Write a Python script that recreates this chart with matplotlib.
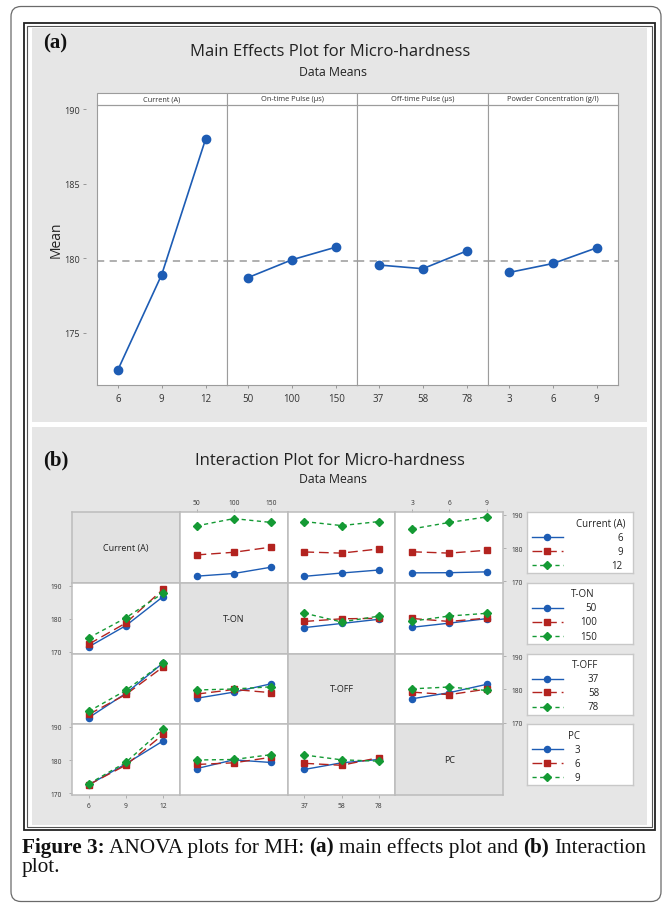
import numpy as np
import matplotlib
matplotlib.use('Agg')
import matplotlib.pyplot as plt
from matplotlib.patches import Rectangle, FancyBboxPatch

W, H = 666, 904
SANS = ['Open Sans', 'DejaVu Sans']
SERIF = ['Liberation Serif', 'DejaVu Serif']
plt.rcParams['font.family'] = SANS

# ---------------- data ----------------
me_titles = ['Current (A)', 'On-time Pulse (µs)', 'Off-time Pulse (µs)',
             'Powder Concentration (g/l)']
short_names = ['Current (A)', 'T-ON', 'T-OFF', 'PC']
current_levels = ['6', '9', '12']
ton_levels = ['50', '100', '150']
toff_levels = ['37', '58', '78']
pc_levels = ['3', '6', '9']

current_mean = [172.5, 178.9, 188.0]
ton_mean = [178.7, 179.9, 180.75]
toff_mean = [179.55, 179.3, 180.5]
pc_mean = [179.05, 179.65, 180.7]

me_yticks = [175, 180, 185, 190]
ia_yticks = [170, 180, 190]

# interaction cell means: rows = levels of first factor, cols = levels of second factor
cur_ton = [[171.55, 172.35, 174.25], [177.95, 178.75, 180.3], [186.7, 188.9, 187.75]]
cur_toff = [[171.5, 172.5, 173.4], [178.85, 178.5, 179.75], [188.0, 186.8, 188.0]]
cur_pc = [[172.55, 172.6, 172.85], [178.9, 178.5, 179.35], [185.8, 187.75, 189.4]]
ton_toff = [[177.35, 178.6, 179.85], [179.2, 180.0, 180.15], [181.7, 179.05, 180.8]]
ton_pc = [[177.45, 178.7, 180.05], [180.1, 179.2, 180.2], [179.3, 180.85, 181.65]]
toff_pc = [[177.2, 179.05, 181.55], [179.2, 178.45, 180.1], [180.2, 180.75, 179.7]]

levels = [current_levels, ton_levels, toff_levels, pc_levels]
means = [current_mean, ton_mean, toff_mean, pc_mean]
pairs = {(0, 1): cur_ton, (0, 2): cur_toff, (0, 3): cur_pc,
         (1, 2): ton_toff, (1, 3): ton_pc, (2, 3): toff_pc}


def cell_lines(i, j):
    if i < j:
        return np.array(pairs[(i, j)])
    return np.array(pairs[(j, i)]).T


BLUE = '#1d5cb4'
RED = '#b3231f'
GREEN = '#149a34'
PANEL = '#e6e6e6'
SPINE = '#9c9c9c'

fig = plt.figure(figsize=(W / 100, H / 100), dpi=100)
fig.patch.set_facecolor('white')


def px(x):
    return x / W


def py(y):
    return 1 - y / H


def add_ax(x0, y0, x1, y1, **kw):
    return fig.add_axes([x0 / W, 1 - y1 / H, (x1 - x0) / W, (y1 - y0) / H], **kw)


bg = fig.add_axes([0, 0, 1, 1], zorder=-5)
bg.set_xlim(0, W)
bg.set_ylim(H, 0)
bg.axis('off')
bg.add_patch(FancyBboxPatch((11, 7.5), 650, 895, boxstyle='round,pad=0,rounding_size=10',
                            fc='none', ec='#6a6a6a', lw=0.9))
bg.add_patch(Rectangle((31.5, 28.5), 615.5, 394, fc=PANEL, ec='none'))
bg.add_patch(Rectangle((31.5, 428), 615.5, 398, fc=PANEL, ec='none'))
bg.add_patch(Rectangle((23.5, 24), 631.5, 806.5, fc='none', ec='#222222', lw=1.3))
bg.add_patch(Rectangle((26.5, 27), 625.5, 800.5, fc='none', ec='#555555', lw=0.8))

renderer = fig.canvas.get_renderer()


def fit_width(t, target):
    w = t.get_window_extent(renderer).width
    t.set_fontsize(t.get_fontsize() * target / w)


# ---------------- (a) main effects ----------------
fig.text(px(43), py(43), '(a)', fontsize=15, fontweight='bold', family=SERIF,
         va='center', ha='left', color='#111')
t_a = fig.text(px(330), py(52), 'Main Effects Plot for Micro-hardness', ha='center',
               va='center', fontsize=12, color='#222')
fit_width(t_a, 280)
t_am = fig.text(px(333), py(72), 'Data Means', ha='center', va='center', fontsize=8.5,
                color='#222')
fit_width(t_am, 68)
fig.text(px(56), py(240), 'Mean', rotation=90, ha='center', va='center', fontsize=10,
         color='#222')

xb = [96.7, 226.7, 357.3, 488.3, 617.7]
top, bot = 105.7, 386
grand = np.mean(current_mean)
hh = 11.7 / (bot - top)
for k in range(4):
    ax = add_ax(xb[k], top, xb[k + 1], bot)
    ax.set_facecolor('white')
    ax.axhline(grand, color='#a9a9a9', lw=1.3, ls=(0, (4, 3)), zorder=1)
    ax.plot(range(3), means[k], color=BLUE, lw=1.2, marker='o', ms=6, zorder=3)
    ax.set_xlim(-0.48, 2.48)
    ax.set_ylim(171.5, 190.3)
    ax.set_xticks(range(3))
    ax.set_xticklabels(levels[k])
    ax.tick_params(axis='x', length=2, width=0.6, color='#888', pad=4, labelsize=7,
                   labelcolor='#333')
    for s in ax.spines.values():
        s.set_color(SPINE)
        s.set_linewidth(0.8)
    ax.set_yticks(me_yticks)
    if k == 0:
        ax.spines['left'].set_position(('outward', 8))
        ax.spines['left'].set_color('none')
        ax.plot([0, 0], [0, 1], transform=ax.transAxes, color=SPINE, lw=0.8, clip_on=False)
        ax.tick_params(axis='y', length=2.5, width=0.6, color='#888', pad=1.5, labelsize=6.5,
                       labelcolor='#333')
    else:
        ax.tick_params(axis='y', left=False, labelleft=False)
    ax.add_patch(Rectangle((0, 1), 1, hh, transform=ax.transAxes, clip_on=False,
                           fc='white', ec=SPINE, lw=0.8))
    ax.text(0.5, 1 + hh / 2, me_titles[k], transform=ax.transAxes, ha='center', va='center',
            fontsize=5.3, color='#333')

# ---------------- (b) interaction ----------------
fig.text(px(43), py(460), '(b)', fontsize=15, fontweight='bold', family=SERIF,
         va='center', ha='left', color='#111')
t_b = fig.text(px(330), py(461), 'Interaction Plot for Micro-hardness', ha='center',
               va='center', fontsize=t_a.get_fontsize(), color='#222')
fig.text(px(333), py(479.5), 'Data Means', ha='center', va='center',
         fontsize=t_am.get_fontsize(), color='#222')

styles = [dict(color=BLUE, ls='-', marker='o', ms=4.4, lw=1.0),
          dict(color=RED, ls=(0, (7, 3.5)), marker='s', ms=4.0, lw=1.0),
          dict(color=GREEN, ls=(0, (3, 2.5)), marker='D', ms=4.2, lw=1.0)]

gx0, gx1 = 72, 503.3
gy0, gy1 = 513.3, 796
cw = (gx1 - gx0) / 4
rh = (gy1 - gy0) / 4
for i in range(4):
    for j in range(4):
        ax = add_ax(gx0 + j * cw, gy0 + i * rh, gx0 + (j + 1) * cw, gy0 + (i + 1) * rh)
        ax.set_xlim(-0.45, 2.45)
        ax.set_ylim(169.5, 190.8)
        for s in ax.spines.values():
            s.set_color('#bcbcbc')
            s.set_linewidth(1.1)
        if i == j:
            ax.set_facecolor('#e2e2e2')
            ax.text(0.5, 0.5, short_names[i], transform=ax.transAxes, ha='center',
                    va='center', fontsize=6.5, color='#222')
        else:
            ax.set_facecolor('white')
            vals = cell_lines(i, j)
            for k in range(3):
                ax.plot(range(3), vals[k], **styles[k])
        ax.set_xticks(range(3))
        ax.set_xticklabels(levels[j])
        ax.set_yticks(ia_yticks)
        ax.tick_params(bottom=False, top=False, left=False, right=False,
                       labelbottom=False, labeltop=False, labelleft=False, labelright=False,
                       length=2, width=0.5, color='#999', labelsize=4.8, labelcolor='#333')
        if i == 0 and j in (1, 3):
            ax.tick_params(axis='x', top=True, labeltop=True, pad=2.5)
        if i == 3 and j in (0, 2):
            ax.tick_params(axis='x', bottom=True, labelbottom=True, pad=3)
        if j == 0 and i in (1, 3):
            ax.tick_params(axis='y', left=True, labelleft=True, pad=5)
        if j == 3 and i in (0, 2):
            ax.tick_params(axis='y', right=True, labelright=True, pad=4)

# legends
lx0, lx1 = 526.7, 633.3
leg_label_x = [0.90, 0.66, 0.68, 0.50]
leg_title = [(0.93, 'right'), (0.53, 'center'), (0.55, 'center'), (0.44, 'center')]
entry_y = [0.59, 0.365, 0.13]
for i in range(4):
    ly0 = gy0 + i * rh
    lax = add_ax(lx0, ly0, lx1, ly0 + 61)
    lax.set_xlim(0, 1)
    lax.set_ylim(0, 1)
    lax.set_xticks([])
    lax.set_yticks([])
    lax.set_facecolor('white')
    for s in lax.spines.values():
        s.set_color('#c8c8c8')
        s.set_linewidth(1.0)
    tx, tha = leg_title[i]
    lax.text(tx, 0.82, short_names[i], ha=tha, va='center', fontsize=7, color='#222')
    for k in range(3):
        st = dict(styles[k])
        mk = st.pop('marker')
        ms = st.pop('ms')
        lax.plot([0.05, 0.34], [entry_y[k]] * 2, **st)
        lax.plot([0.195], [entry_y[k]], marker=mk, ms=ms, color=st['color'], ls='none')
        lax.text(leg_label_x[i], entry_y[k], levels[i][k], ha='right', va='center',
                 fontsize=7, color='#222')

# ---------------- caption ----------------
cap_size = 13.8
pieces = [('Figure 3:', 'bold'), ('ANOVA plots for MH:', 'normal'), ('(a)', 'bold'),
          ('main effects plot and', 'normal'), ('(b)', 'bold'), ('Interaction', 'normal')]
texts = []
t0 = fig.text(px(21.7), py(852.7), pieces[0][0], fontsize=cap_size, fontweight=pieces[0][1],
              family=SERIF, va='baseline', ha='left', color='#111')
texts.append(t0)
prev = t0
for s, wgt in pieces[1:]:
    t = bg.annotate(s, xy=(1, 0), xycoords=prev, xytext=(3.6, 0), textcoords='offset points',
                    fontsize=cap_size, fontweight=wgt, family=SERIF, va='bottom', ha='left',
                    color='#111')
    texts.append(t)
    prev = t
t_last = fig.text(px(21.7), py(871.7), 'plot.', fontsize=cap_size, family=SERIF,
                  va='baseline', ha='left', color='#111')

for _ in range(3):
    x_l = texts[0].get_window_extent(renderer).x0
    x_r = texts[-1].get_window_extent(renderer).x1
    scale = 628.0 / (x_r - x_l)
    for t in texts + [t_last]:
        t.set_fontsize(t.get_fontsize() * scale)

fig.savefig('out.png', dpi=100, facecolor='white')
